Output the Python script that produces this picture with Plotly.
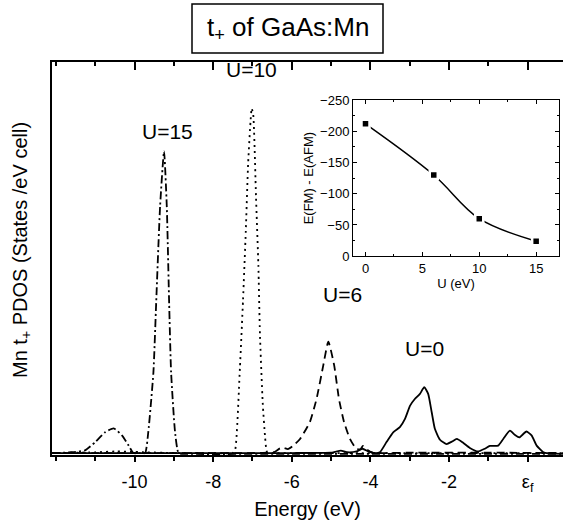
import plotly.graph_objects as go

# ---------------- data ----------------
# U = 0 (solid)
u0_x = [-12.1, -10.0, -8.0, -6.0, -5.0, -4.9, -4.75, -4.6, -4.35, -4.2, -4.05, -3.9, -3.76,
        -3.59, -3.42, -3.25, -3.12, -2.99, -2.87, -2.74, -2.63, -2.53, -2.44, -2.36, -2.23,
        -2.06, -1.93, -1.80, -1.64, -1.47, -1.26, -1.09, -0.96, -0.75, -0.62, -0.45, -0.32,
        -0.21, -0.03, 0.10, 0.23, 0.40, 0.52, 0.9]
u0_y = [0.02, 0.02, 0.02, 0.02, 0.03, 0.05, 0.08, 0.04, 0.06, 0.13, 0.06, 0.02, 0.04,
        0.30, 0.55, 0.68, 0.89, 1.23, 1.40, 1.53, 1.70, 1.53, 1.06, 0.64, 0.36,
        0.25, 0.31, 0.38, 0.28, 0.15, 0.06, 0.13, 0.20, 0.21, 0.38, 0.59, 0.48,
        0.42, 0.57, 0.47, 0.21, 0.04, 0.01, 0.0]

# U = 6 (dashed)
u6_x = [-12.1, -9.0, -7.0, -6.6, -6.43, -6.3, -6.2, -6.1, -5.96, -5.79, -5.54, -5.37, -5.20,
        -5.07, -4.92, -4.80, -4.67, -4.52, -4.36, -4.25, -4.19, -4.1, -3.95, -3.0, -1.0, 0.9]
u6_y = [0.02, 0.02, 0.02, 0.03, 0.05, 0.14, 0.15, 0.12, 0.21, 0.38, 0.81, 1.40, 2.25,
        2.86, 2.25, 1.40, 0.81, 0.38, 0.13, 0.12, 0.20, 0.12, 0.03, 0.03, 0.03, 0.02]

# U = 10 (dotted)
u10_x = [-12.1, -11.0, -10.5, -10.0, -9.0, -8.0, -7.5, -7.44, -7.32, -7.24, -7.17, -7.11,
         -7.05, -7.02, -6.98, -6.91, -6.85, -6.81, -6.74, -6.68, -6.63, -6.5, -6.0, -4.0, 0.9]
u10_y = [0.02, 0.04, 0.06, 0.05, 0.02, 0.02, 0.02, 0.10, 2.18, 3.93, 5.68, 7.42,
         8.47, 8.82, 8.65, 6.55, 4.80, 3.06, 1.31, 0.44, 0.05, 0.02, 0.02, 0.02, 0.02]

# U = 15 (dash-dot)
u15_x = [-12.1, -11.6, -11.26, -11.0, -10.75, -10.53, -10.32, -10.15, -10.03, -9.85, -9.73,
         -9.65, -9.52, -9.45, -9.35, -9.25, -9.18, -9.12, -9.07, -8.97, -8.88, -8.7, -6.0, 0.9]
u15_y = [0.02, 0.04, 0.09, 0.30, 0.55, 0.65, 0.47, 0.21, 0.02, 0.02, 0.02,
         0.56, 2.08, 3.85, 6.32, 7.72, 6.32, 3.85, 2.08, 0.56, 0.02, 0.0, 0.0, 0.0]

# inset: exchange energy vs U
inset_u = [0, 6, 10, 15]
inset_e = [-212, -130, -60, -24]

x_tickvals = [-10, -8, -6, -4, -2, 0]
x_ticktext = ["-10", "-8", "-6", "-4", "-2", "ε<sub>f</sub>"]
x_range = [-12.1, 0.9]
y_range = [-0.03, 10]

FONT = "Arial, Liberation Sans, sans-serif"
BLACK = "#000000"

fig = go.Figure()

def add_curve(x, y, dash):
    fig.add_trace(go.Scatter(x=x, y=y, mode="lines",
                             line=dict(color=BLACK, width=1.8, dash=dash,
                                       shape="spline", smoothing=0.5),
                             showlegend=False, hoverinfo="skip"))

add_curve(u15_x, u15_y, "8px,3px,2px,3px")
add_curve(u10_x, u10_y, "2px,4px")
add_curve(u6_x, u6_y, "8px,5px")
add_curve(u0_x, u0_y, "solid")

# invisible trace to activate top axis
fig.add_trace(go.Scatter(x=x_range, y=[None, None], xaxis="x3", yaxis="y",
                         mode="lines", showlegend=False, hoverinfo="skip"))

# inset
fig.add_trace(go.Scatter(x=inset_u, y=inset_e, mode="lines", xaxis="x2", yaxis="y2",
                         line=dict(color=BLACK, width=1.5, shape="spline", smoothing=1),
                         showlegend=False, hoverinfo="skip"))
fig.add_trace(go.Scatter(x=inset_u, y=inset_e, mode="markers", xaxis="x2", yaxis="y2",
                         marker=dict(symbol="square", size=8, color=BLACK,
                                     line=dict(color="white", width=2.5)),
                         showlegend=False, hoverinfo="skip"))

fig.update_layout(
    width=563, height=525,
    margin=dict(l=52, r=0, t=62, b=70),
    paper_bgcolor="white", plot_bgcolor="white",
    font=dict(family=FONT, color=BLACK),
    xaxis=dict(range=x_range, showgrid=False, zeroline=False, showline=True,
               linecolor=BLACK, linewidth=1.5, ticks="outside", ticklen=5, tickwidth=1.5,
               tickcolor=BLACK, tickvals=x_tickvals, ticktext=x_ticktext,
               tickfont=dict(size=18), ticklabelstandoff=5,
               minor=dict(dtick=1, tick0=0, ticks="outside", ticklen=4, tickwidth=1.5,
                          tickcolor=BLACK),
               title=dict(text="Energy (eV)", font=dict(size=20), standoff=8)),
    xaxis3=dict(range=x_range, overlaying="x", side="top", anchor="y", showgrid=False,
                zeroline=False, showline=True, linecolor=BLACK, linewidth=1.5,
                ticks="inside", ticklen=8, tickwidth=1.5, tickcolor=BLACK,
                tickvals=x_tickvals, showticklabels=False,
                minor=dict(dtick=1, tick0=0, ticks="inside", ticklen=4, tickwidth=1.5,
                           tickcolor=BLACK)),
    yaxis=dict(range=y_range, showgrid=False, zeroline=False, showline=True,
               linecolor=BLACK, linewidth=1.5, ticks="", showticklabels=False),
    xaxis2=dict(domain=[0.589, 0.992], anchor="y2", range=[-1.1, 17], showgrid=False,
                zeroline=False, showline=True, mirror="allticks", linecolor=BLACK,
                linewidth=1, ticks="inside", ticklen=4, tickcolor=BLACK,
                tickvals=[0, 5, 10, 15], tickfont=dict(size=13),
                minor=dict(dtick=2.5, tick0=0, ticks="inside", ticklen=2, tickcolor=BLACK),
                title=dict(text="U (eV)", font=dict(size=13), standoff=1)),
    yaxis2=dict(domain=[0.506, 0.903], anchor="x2", range=[0, -250], showgrid=False,
                zeroline=False, showline=True, mirror="allticks", linecolor=BLACK,
                linewidth=1, ticks="inside", ticklen=4, tickcolor=BLACK,
                tickvals=[0, -50, -100, -150, -200, -250], tickfont=dict(size=13),
                minor=dict(dtick=25, tick0=0, ticks="inside", ticklen=2, tickcolor=BLACK),
                title=dict(text="E(FM) - E(AFM)", font=dict(size=13), standoff=3)),
)

# title box
fig.add_shape(type="rect", xref="paper", yref="paper",
              x0=(192 - 52) / 511, x1=(383 - 52) / 511,
              y0=1 + (62 - 53) / 393, y1=1 + (62 - 4) / 393,
              line=dict(color=BLACK, width=1.5), fillcolor="white")
fig.add_annotation(xref="paper", yref="paper", x=(287.5 - 52) / 511, y=1 + (62 - 28) / 393,
                   text="t<sub>+</sub> of GaAs:Mn", showarrow=False,
                   font=dict(size=26), xanchor="center", yanchor="middle")

# y title
fig.add_annotation(xref="paper", yref="paper", x=(22 - 52) / 511, y=(455 - 250) / 393,
                   text="Mn t<sub>+</sub> PDOS (States /eV cell)", textangle=-90,
                   showarrow=False, font=dict(size=20), xanchor="center", yanchor="middle")

# peak labels
for txt, px, py in [("U=15", 167, 131), ("U=10", 251, 70), ("U=6", 342, 294), ("U=0", 424, 348)]:
    fig.add_annotation(xref="paper", yref="paper", x=(px - 52) / 511, y=(455 - py) / 393,
                       text=txt, showarrow=False, font=dict(size=21),
                       xanchor="center", yanchor="middle")

fig.write_html("out.html")
